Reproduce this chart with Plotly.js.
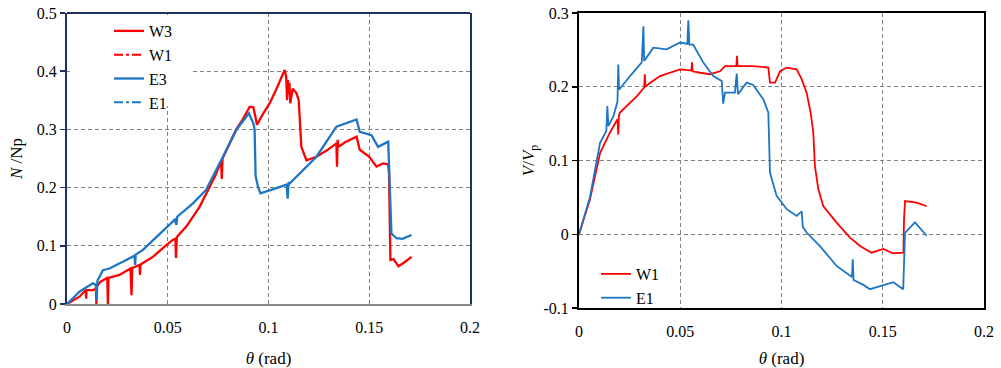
<!DOCTYPE html>
<html>
<head>
<meta charset="utf-8">
<script src="https://cdn.plot.ly/plotly-3.0.1.min.js"></script>
<style>html,body{margin:0;padding:0;background:#fff;}#chart{width:1001px;height:368px;}</style>
</head>
<body>
<div id="chart"></div>
<script>
// ---- Left panel: N/Np vs theta ----
const thetaW3 = [0, 0.0062, 0.0093, 0.0095, 0.0097, 0.0128, 0.0144, 0.0146, 0.0148, 0.0165, 0.0195, 0.0200, 0.0203, 0.0206, 0.026, 0.0315, 0.0320, 0.0324, 0.036, 0.0362, 0.0365, 0.0426, 0.0493, 0.0525, 0.0538, 0.0541, 0.0545, 0.0592, 0.0658, 0.070, 0.0735, 0.0765, 0.0768, 0.0772, 0.080, 0.084, 0.087, 0.0907, 0.0925, 0.0943, 0.097, 0.1006, 0.104, 0.108, 0.1088, 0.1092, 0.1096, 0.110, 0.1104, 0.1108, 0.112, 0.1139, 0.1150, 0.1155, 0.1163, 0.1188, 0.1238, 0.129, 0.1337, 0.1340, 0.1343, 0.1346, 0.138, 0.1437, 0.1453, 0.150, 0.1536, 0.1569, 0.1594, 0.1598, 0.1600, 0.1605, 0.162, 0.1645, 0.1668, 0.169, 0.171];
const nW3 = [0, 0.0126, 0.024, 0.009, 0.024, 0.024, 0.026, 0, 0.03, 0.038, 0.044, 0.046, 0, 0.045, 0.05, 0.061, 0.015, 0.062, 0.067, 0.05, 0.068, 0.081, 0.101, 0.11, 0.112, 0.079, 0.115, 0.133, 0.167, 0.196, 0.22, 0.245, 0.215, 0.25, 0.27, 0.3, 0.316, 0.339, 0.338, 0.308, 0.325, 0.345, 0.37, 0.402, 0.39, 0.35, 0.385, 0.36, 0.38, 0.345, 0.37, 0.362, 0.35, 0.316, 0.27, 0.247, 0.253, 0.264, 0.276, 0.236, 0.282, 0.27, 0.278, 0.2875, 0.265, 0.253, 0.236, 0.2417, 0.24, 0.225, 0.15, 0.0756, 0.077, 0.065, 0.07, 0.075, 0.081];

const thetaE3 = [0, 0.0062, 0.0128, 0.0143, 0.0147, 0.0151, 0.0178, 0.0211, 0.0294, 0.0335, 0.0338, 0.0341, 0.0377, 0.046, 0.0535, 0.0543, 0.0547, 0.0625, 0.069, 0.0774, 0.084, 0.0903, 0.0925, 0.0931, 0.0936, 0.0948, 0.096, 0.1039, 0.109, 0.1095, 0.1100, 0.1105, 0.1238, 0.1337, 0.1437, 0.1453, 0.1511, 0.1544, 0.1594, 0.1597, 0.161, 0.1635, 0.1665, 0.171];
const nE3 = [0, 0.021, 0.0355, 0.033, 0.007, 0.04, 0.058, 0.061, 0.0756, 0.083, 0.067, 0.085, 0.093, 0.121, 0.145, 0.136, 0.15, 0.173, 0.196, 0.253, 0.299, 0.3276, 0.31, 0.3, 0.22, 0.2015, 0.19, 0.199, 0.205, 0.181, 0.209, 0.207, 0.253, 0.3046, 0.317, 0.296, 0.29, 0.27, 0.279, 0.25, 0.121, 0.113, 0.112, 0.1185];

// W1 and E1 (dash-dot) in the left panel: only their common origin point is distinguishable
const thetaW1left = [0];
const nW1left = [0];
const thetaE1left = [0];
const nE1left = [0];

// ---- Right panel: V/Vp vs theta ----
const thetaW1 = [0, 0.0054, 0.0104, 0.0153, 0.0190, 0.0194, 0.0197, 0.0202, 0.0285, 0.0322, 0.0325, 0.0328, 0.0345, 0.04, 0.0499, 0.0555, 0.0558, 0.0561, 0.0598, 0.0647, 0.0696, 0.0721, 0.0777, 0.0780, 0.0783, 0.086, 0.0935, 0.0943, 0.0968, 0.0993, 0.1026, 0.1075, 0.11, 0.1124, 0.1144, 0.1157, 0.1165, 0.1182, 0.1206, 0.1272, 0.1338, 0.1388, 0.1445, 0.1503, 0.1550, 0.1602, 0.1605, 0.161, 0.1668, 0.1717];
const vW1 = [0, 0.047, 0.11, 0.138, 0.156, 0.135, 0.16, 0.165, 0.187, 0.199, 0.217, 0.2, 0.204, 0.2145, 0.2236, 0.222, 0.233, 0.221, 0.219, 0.217, 0.221, 0.228, 0.228, 0.242, 0.228, 0.228, 0.226, 0.2056, 0.2056, 0.221, 0.226, 0.2236, 0.21, 0.192, 0.165, 0.138, 0.0925, 0.061, 0.0383, 0.0158, -0.0045, -0.016, -0.025, -0.020, -0.026, -0.025, 0.02, 0.045, 0.043, 0.038];

const thetaE1 = [0, 0.0054, 0.0104, 0.0135, 0.0140, 0.0145, 0.017, 0.0190, 0.0194, 0.0198, 0.0252, 0.0310, 0.0318, 0.0322, 0.0367, 0.0433, 0.0499, 0.0535, 0.054, 0.0545, 0.0564, 0.0614, 0.0663, 0.0705, 0.0712, 0.0721, 0.0770, 0.0779, 0.0785, 0.0828, 0.086, 0.091, 0.0935, 0.0943, 0.0976, 0.1026, 0.1075, 0.1100, 0.1105, 0.1124, 0.119, 0.1272, 0.1348, 0.1352, 0.1356, 0.1400, 0.1437, 0.1486, 0.1552, 0.1601, 0.161, 0.1659, 0.1717];
const vE1 = [0, 0.05, 0.124, 0.14, 0.174, 0.1467, 0.16, 0.18, 0.23, 0.196, 0.2145, 0.233, 0.282, 0.235, 0.253, 0.2507, 0.26, 0.258, 0.29, 0.257, 0.257, 0.2327, 0.2145, 0.2077, 0.177, 0.192, 0.192, 0.218, 0.19, 0.2056, 0.2025, 0.183, 0.165, 0.0836, 0.052, 0.034, 0.0248, 0.031, 0.010, 0.0023, -0.016, -0.043, -0.058, -0.034, -0.062, -0.068, -0.0745, -0.070, -0.065, -0.0745, 0.002, 0.016, -0.002];

const xTicks = [0, 0.05, 0.1, 0.15, 0.2];
const xTickText = ['0', '0.05', '0.1', '0.15', '0.2'];
const yLeftTicks = [0, 0.1, 0.2, 0.3, 0.4, 0.5];
const yLeftTickText = ['0', '0.1', '0.2', '0.3', '0.4', '0.5'];
const yRightTicks = [-0.1, 0, 0.1, 0.2, 0.3];
const yRightTickText = ['-0.1', '0', '0.1', '0.2', '0.3'];

const RED = '#ff0000';
const BLUE = '#1c75c5';
const NAVY = '#1f2f66';
const SERIF = 'Liberation Serif';

const traces = [
  {x: thetaW3, y: nW3, name: 'W3', type: 'scatter', mode: 'lines', line: {color: RED, width: 2.3}, xaxis: 'x', yaxis: 'y', legend: 'legend'},
  {x: thetaW1left, y: nW1left, name: 'W1', type: 'scatter', mode: 'lines', line: {color: RED, width: 2, dash: 'dashdot'}, xaxis: 'x', yaxis: 'y', legend: 'legend'},
  {x: thetaE3, y: nE3, name: 'E3', type: 'scatter', mode: 'lines', line: {color: BLUE, width: 2.3}, xaxis: 'x', yaxis: 'y', legend: 'legend'},
  {x: thetaE1left, y: nE1left, name: 'E1', type: 'scatter', mode: 'lines', line: {color: BLUE, width: 2, dash: 'dashdot'}, xaxis: 'x', yaxis: 'y', legend: 'legend'},
  {x: thetaW1, y: vW1, name: 'W1', type: 'scatter', mode: 'lines', line: {color: RED, width: 1.8}, xaxis: 'x2', yaxis: 'y2', legend: 'legend2'},
  {x: thetaE1, y: vE1, name: 'E1', type: 'scatter', mode: 'lines', line: {color: BLUE, width: 1.8}, xaxis: 'x2', yaxis: 'y2', legend: 'legend2'}
];

const layout = {
  width: 1001, height: 368,
  margin: {l: 0, r: 0, t: 0, b: 0},
  paper_bgcolor: '#fff', plot_bgcolor: '#fff',
  font: {family: SERIF, size: 16, color: '#000'},
  xaxis: {
    domain: [67 / 1001, 470 / 1001], range: [0, 0.2], anchor: 'y',
    showgrid: true, gridcolor: '#808080', gridwidth: 1.3, griddash: '4px,3px', zeroline: false,
    tickvals: xTicks, ticktext: xTickText, ticks: '', ticklabelstandoff: 8,
    showline: true, linecolor: '#8a8a8a', linewidth: 2,
    title: {text: '<i>θ</i> (rad)', font: {size: 17}}
  },
  yaxis: {
    domain: [1 - 304 / 368, 1 - 13 / 368], range: [0, 0.5], anchor: 'x',
    showgrid: true, gridcolor: '#808080', gridwidth: 1.3, griddash: '4px,3px', zeroline: false,
    tickvals: yLeftTicks, ticktext: yLeftTickText, ticks: 'outside', ticklen: 5, tickcolor: NAVY, tickwidth: 1.5,
    showline: true, linecolor: NAVY, linewidth: 2, mirror: true,
    title: {text: '<i>N</i> /Np', font: {size: 17}}
  },
  xaxis2: {
    domain: [579 / 1001, 984 / 1001], range: [0, 0.2], anchor: 'y2',
    showgrid: true, gridcolor: '#808080', gridwidth: 1.3, griddash: '4px,3px', zeroline: false,
    tickvals: xTicks, ticktext: xTickText, ticks: '', ticklabelstandoff: 8,
    showline: true, linecolor: '#000', linewidth: 2, mirror: true,
    title: {text: '<i>θ</i> (rad)', font: {size: 17}}
  },
  yaxis2: {
    domain: [1 - 308 / 368, 1 - 13 / 368], range: [-0.1, 0.3], anchor: 'x2',
    showgrid: true, gridcolor: '#808080', gridwidth: 1.3, griddash: '4px,3px', zeroline: false,
    tickvals: yRightTicks, ticktext: yRightTickText, ticks: 'outside', ticklen: 5, tickcolor: '#000', tickwidth: 1.5,
    showline: true, linecolor: '#000', linewidth: 2, mirror: true,
    title: {text: '<i>V</i>/<i>V</i><sub>p</sub>', font: {size: 17}}
  },
  shapes: [
    {type: 'line', xref: 'paper', yref: 'paper', x0: 67 / 1001, x1: 470 / 1001, y0: 1 - 13 / 368, y1: 1 - 13 / 368, line: {color: NAVY, width: 2}, layer: 'above'},
    {type: 'rect', xref: 'paper', yref: 'paper', x0: 70 / 1001, x1: 190 / 1001, y0: 1 - 106 / 368, y1: 1 - 15 / 368, fillcolor: '#ffffff', line: {width: 0}, layer: 'above'}
  ],
  legend: {x: 109 / 1001, y: 1 - 14 / 368, xanchor: 'left', yanchor: 'top', bgcolor: 'rgba(255,255,255,0)', font: {size: 16}, tracegroupgap: 0},
  legend2: {x: 596 / 1001, y: 1 - 257 / 368, xanchor: 'left', yanchor: 'top', bgcolor: 'rgba(255,255,255,0)', font: {size: 16}, tracegroupgap: 0},
  showlegend: true
};

Plotly.newPlot('chart', traces, layout, {displayModeBar: false, staticPlot: true});
</script>
</body>
</html>
